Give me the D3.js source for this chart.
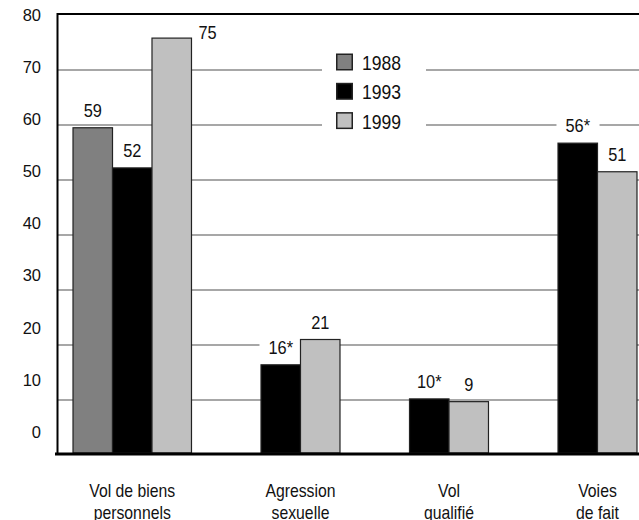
<!DOCTYPE html>
<html>
<head>
<meta charset="utf-8">
<script src="https://cdn.jsdelivr.net/npm/d3@7"></script>
<style>
  html, body { margin: 0; padding: 0; background: #fff; overflow: hidden; }
  svg { display: block; }
  text { font-family: "Liberation Sans", Arial, Helvetica, sans-serif; }
</style>
</head>
<body>
<svg id="chart" width="639" height="520"></svg>
<script>
// ---- data ----
const categories = ["Vol de biens\npersonnels", "Agression\nsexuelle", "Vol\nqualifié", "Voies\nde fait"];
const years = ["1988", "1993", "1999"];
// bar heights (unrounded), and the printed labels
const values1988 = [59.5, null, null, null];
const values1993 = [52.2, 16.4, 10.2, 56.7];
const values1999 = [75.8, 21.0, 9.7, 51.5];
const labels1988 = ["59", null, null, null];
const labels1993 = ["52", "16*", "10*", "56*"];
const labels1999 = ["75", "21", "9", "51"];
const yTicks = [0, 10, 20, 30, 40, 50, 60, 70, 80];

const seriesValues = [values1988, values1993, values1999];
const seriesLabels = [labels1988, labels1993, labels1999];
const colors = ["#808080", "#000000", "#c0c0c0"];

// ---- layout ----
const svg = d3.select("#chart");
const pLeft = 58, pRight = 652, pTop = 15, pBottom = 455;

const y = d3.scaleLinear().domain([0, 80]).range([pBottom, pTop]);
// tick labels of the original are spaced slightly tighter than the grid
const yLabel = d3.scaleLinear().domain([0, 80]).range([432, 15]);
const x = d3.scaleBand().domain(categories).range([pLeft, pRight]).padding(0);
const xi = d3.scaleBand().domain(years).range([0, x.bandwidth()]).paddingInner(0).paddingOuter(0.38);

// condense a text element horizontally (the original uses a condensed face)
function condense(sel, f) {
  sel.each(function() {
    const w = this.getComputedTextLength();
    if (w > 0) d3.select(this).attr("textLength", w * f).attr("lengthAdjust", "spacingAndGlyphs");
  });
}

// bars data
const bars = [];
categories.forEach((c, ci) => {
  years.forEach((yr, si) => {
    const v = seriesValues[si][ci];
    if (v != null) bars.push({ c, ci, yr, si, v, label: seriesLabels[si][ci] });
  });
});

// gridlines
svg.append("g").selectAll("line").data(yTicks.filter(t => t > 0 && t < 80)).join("line")
  .attr("x1", pLeft).attr("x2", pRight)
  .attr("y1", d => y(d)).attr("y2", d => y(d))
  .attr("stroke", "#8a8a8a").attr("stroke-width", 1.3);

// label placement
bars.forEach(b => {
  const bx = x(b.c) + xi(b.yr);
  const topY = y(b.v);
  if (topY - 26 < pTop) {
    b.lx = bx + xi.bandwidth() + 7; b.ly = topY + 0.5; b.anchor = "start";
  } else {
    b.lx = bx + xi.bandwidth() / 2; b.ly = topY - 11; b.anchor = "middle";
  }
});

// white backgrounds behind value labels (break the grid)
const lblBgG = svg.append("g");
// legend background
svg.append("rect").attr("x", 322).attr("y", 48).attr("width", 104).attr("height", 88).attr("fill", "#fff");

// bars
svg.append("g").selectAll("rect").data(bars).join("rect")
  .attr("x", d => x(d.c) + xi(d.yr))
  .attr("y", d => y(d.v))
  .attr("width", xi.bandwidth())
  .attr("height", d => y(0) - 2 - y(d.v))
  .attr("fill", d => colors[d.si])
  .attr("stroke", "#222").attr("stroke-width", 1.2);

// value labels
const lbls = svg.append("g").selectAll("text").data(bars).join("text")
  .attr("x", d => d.lx).attr("y", d => d.ly)
  .attr("text-anchor", d => d.anchor)
  .attr("font-size", 19)
  .attr("fill", "#111")
  .text(d => d.label);
condense(lbls, 0.86);

lbls.each(function(d) {
  const bb = this.getBBox();
  lblBgG.append("rect")
    .attr("x", bb.x - 9).attr("y", bb.y)
    .attr("width", bb.width + 18).attr("height", bb.height)
    .attr("fill", "#fff");
});

// frame: top line, left axis, baseline
svg.append("line").attr("x1", pLeft - 1).attr("x2", pRight).attr("y1", 14).attr("y2", 14)
  .attr("stroke", "#000").attr("stroke-width", 2);
svg.append("line").attr("x1", 57.5).attr("x2", 57.5).attr("y1", 13).attr("y2", 455)
  .attr("stroke", "#000").attr("stroke-width", 2);
svg.append("line").attr("x1", 55).attr("x2", pRight).attr("y1", 454).attr("y2", 454)
  .attr("stroke", "#000").attr("stroke-width", 3);

// y tick labels
const yAxis = d3.axisLeft(yLabel).tickValues(yTicks).tickSize(0).tickPadding(0).tickFormat(d3.format("d"));
const ya = svg.append("g").attr("transform", "translate(41,0)").call(yAxis);
ya.select(".domain").remove();
ya.selectAll("text").attr("font-family", "'Liberation Sans', Arial, sans-serif")
  .attr("font-size", 16.5).attr("fill", "#111");

// category labels (one text per line)
const catX = (ci) => {
  const present = bars.filter(b => b.ci === ci);
  const x0 = d3.min(present, b => x(b.c) + xi(b.yr));
  const x1 = d3.max(present, b => x(b.c) + xi(b.yr) + xi.bandwidth());
  return (x0 + x1) / 2;
};
const catLines = [];
categories.forEach((c, ci) => c.split("\n").forEach((line, li) => catLines.push({ ci, li, line })));
const catT = svg.append("g").selectAll("text").data(catLines).join("text")
  .attr("font-size", 19).attr("fill", "#111").attr("text-anchor", "middle")
  .attr("x", d => catX(d.ci))
  .attr("y", d => 497 + d.li * 22)
  .text(d => d.line);
condense(catT, 0.83);

// legend
const lg = svg.append("g").selectAll("g").data(years).join("g")
  .attr("transform", (d, i) => `translate(336,${53.5 + i * 29.3})`);
lg.append("rect").attr("x", 0.75).attr("y", 0.75).attr("width", 15.5).attr("height", 15.5)
  .attr("fill", (d, i) => colors[i]).attr("stroke", "#222").attr("stroke-width", 1.5);
const lgT = lg.append("text").attr("x", 26).attr("y", 16.5)
  .attr("font-size", 19.5).attr("fill", "#111").text(d => d);
condense(lgT, 0.9);
</script>
</body>
</html>
